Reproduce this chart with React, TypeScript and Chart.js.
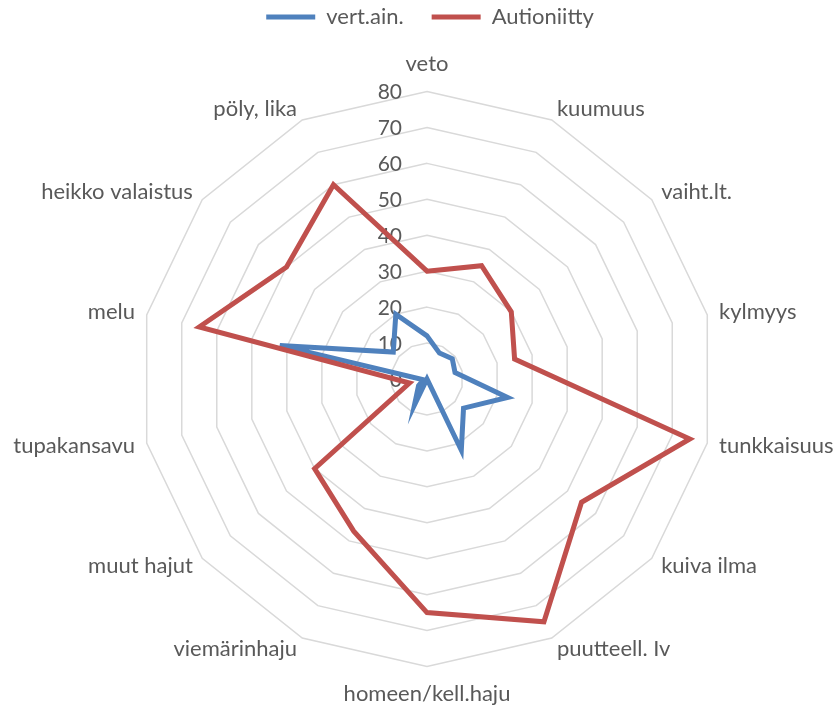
import React, { useEffect, useRef } from 'react';
import { Chart, registerables } from 'chart.js';

Chart.register(...registerables);

const categories = [
  'veto',
  'kuumuus',
  'vaiht.lt.',
  'kylmyys',
  'tunkkaisuus',
  'kuiva ilma',
  'puutteell. Iv',
  'homeen/kell.haju',
  'viemärinhaju',
  'muut hajut',
  'tupakansavu',
  'melu',
  'heikko valaistus',
  'pöly, lika',
];
const vertAinValues = [12, 8, 9, 8, 23, 13, 22, 0, 8, 3, 1, 42, 12, 20];
const autioniittyValues = [30, 35, 30, 25, 75, 55, 75, 65, 47, 40, 5, 65, 50, 60];
const tickValues = [0, 10, 20, 30, 40, 50, 60, 70, 80];

const FONT = 'Lato';
const TEXT = '#595959';
const BLUE = '#4F81BD';
const RED = '#C0504D';
const GRID = '#D9D9D9';

// geometry of the polar area (centre and outer radius of the grid)
const CENTER_X = 427;
const CENTER_Y = 379;
const OUTER_RADIUS = 287.5;
const LABEL_PAD_SIDE = 12;
const LABEL_PAD_POLE = 27.5;

const tickLabelPlugin = {
  id: 'tickLabelsLeft',
  beforeDatasetsDraw(chart: any) {
    const scale = chart.scales.r;
    const ctx = chart.ctx;
    ctx.save();
    ctx.font = `21px ${FONT}`;
    ctx.fillStyle = TEXT;
    ctx.textAlign = 'right';
    ctx.textBaseline = 'middle';
    scale.ticks.forEach((t: any) => {
      const d = scale.getDistanceFromCenterForValue(t.value);
      ctx.fillText(String(t.value), scale.xCenter - 25, scale.yCenter - d + 1);
    });
    ctx.restore();
  },
};

export default function App() {
  const ref = useRef<HTMLCanvasElement | null>(null);
  useEffect(() => {
    if (!ref.current) return;
    const n = categories.length;
    const chart = new Chart(ref.current, {
      type: 'radar',
      data: {
        labels: categories,
        datasets: [
          {
            label: 'vert.ain.',
            data: vertAinValues,
            borderColor: BLUE,
            backgroundColor: BLUE,
            borderWidth: 5,
            fill: false,
            pointRadius: 0,
            pointHoverRadius: 0,
            borderCapStyle: 'round',
            borderJoinStyle: 'miter',
            order: 1,
          },
          {
            label: 'Autioniitty',
            data: autioniittyValues,
            borderColor: RED,
            backgroundColor: RED,
            borderWidth: 5,
            fill: false,
            pointRadius: 0,
            pointHoverRadius: 0,
            borderCapStyle: 'round',
            borderJoinStyle: 'miter',
            order: 0,
          },
        ],
      },
      options: {
        responsive: false,
        animation: false,
        layout: { padding: { top: -22, bottom: 0, left: 23, right: 0 } },
        plugins: {
          legend: {
            position: 'top',
            labels: {
              usePointStyle: true,
              pointStyle: 'line',
              pointStyleWidth: 49,
              padding: 28,
              color: TEXT,
              font: { family: FONT, size: 22 },
              sort: (a: any, b: any) => a.datasetIndex - b.datasetIndex,
            },
          },
          tooltip: { enabled: false },
        },
        scales: {
          r: {
            min: tickValues[0],
            max: tickValues[tickValues.length - 1],
            ticks: { display: false, stepSize: tickValues[1] - tickValues[0] },
            grid: { color: GRID, lineWidth: 1.5, circular: false },
            angleLines: { display: false },
            pointLabels: {
              color: TEXT,
              font: { family: FONT, size: 22, lineHeight: 0 },
              padding: (c: any) =>
                Math.abs(Math.cos((c.index * 2 * Math.PI) / n)) > 0.99 ? LABEL_PAD_POLE : LABEL_PAD_SIDE,
            },
            afterSetDimensions: (scale: any) => {
              const r0 = OUTER_RADIUS + LABEL_PAD_POLE;
              scale.left = CENTER_X - 1000;
              scale.right = CENTER_X + 1000;
              scale.top = CENTER_Y - r0;
              scale.bottom = CENTER_Y + r0;
              scale.width = 2000;
              scale.height = 2 * r0;
              scale.xCenter = CENTER_X;
              scale.yCenter = CENTER_Y;
              scale.drawingArea = r0;
            },
          },
        },
      },
      plugins: [tickLabelPlugin],
    } as any);
    return () => chart.destroy();
  }, []);
  return (
    <div style={{ position: 'fixed', left: 0, top: 0, width: 837, height: 710, background: '#fff' }}>
      <canvas ref={ref} width={837} height={710} style={{ display: 'block' }} />
    </div>
  );
}
